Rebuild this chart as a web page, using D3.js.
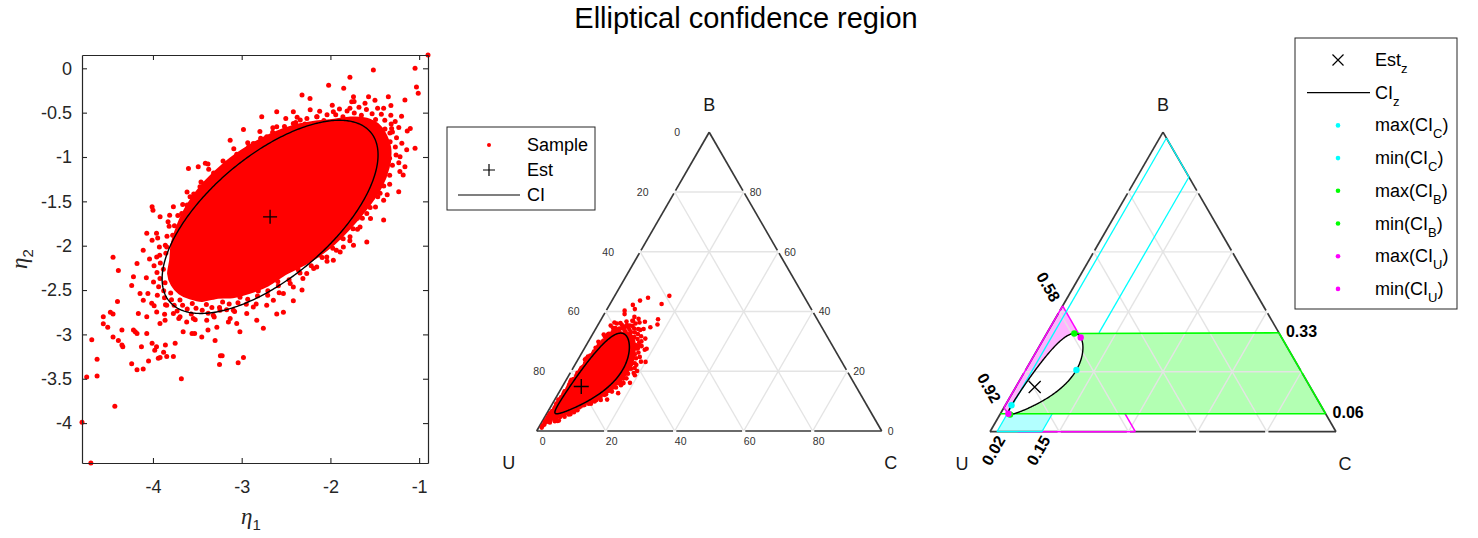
<!DOCTYPE html>
<html>
<head>
<meta charset="utf-8">
<script src="https://cdn.jsdelivr.net/npm/d3@7"></script>
<style>
  body { margin: 0; background: #fff; }
  svg { display: block; font-family: "Liberation Sans", Arial, Helvetica, sans-serif; }
</style>
</head>
<body>
<svg id="fig" width="1478" height="538"></svg>
<script>
// ---------------- data (eta1, eta2 log-ratio coordinates) ----------------
// outline of the saturated part of the sample cloud
const sampleCore = [
  [-1.455,-0.645],[-1.591,-0.574],[-1.775,-0.560],[-1.982,-0.589],[-2.180,-0.608],[-2.401,-0.650],
  [-2.651,-0.739],[-2.920,-0.882],[-3.188,-1.071],[-3.427,-1.300],[-3.606,-1.543],[-3.718,-1.772],
  [-3.783,-1.975],[-3.80,-2.16],[-3.824,-2.314],[-3.783,-2.441],[-3.701,-2.534],[-3.584,-2.589],
  [-3.445,-2.617],[-3.27,-2.58],[-3.101,-2.575],[-2.911,-2.526],[-2.703,-2.441],[-2.50,-2.31],
  [-2.251,-2.184],[-2.005,-2.014],[-1.787,-1.802],[-1.592,-1.574],[-1.432,-1.336],[-1.348,-1.114],
  [-1.329,-0.920],[-1.373,-0.767]
];
// individual draws around and outside that outline
const samplePoints = [
  [-1.491,-0.578],[-1.651,-0.529],[-1.859,-0.547],[-2.074,-0.588],[-2.288,-0.628],[-2.526,-0.711],
  [-2.780,-0.836],[-3.036,-1.006],[-3.284,-1.205],[-3.496,-1.430],[-3.664,-1.660],[-3.778,-1.881],
  [-3.855,-2.085],[-3.883,-2.266],[-3.864,-2.417],[-3.800,-2.533],[-3.696,-2.612],[-3.557,-2.651],
  [-3.398,-2.662],[-3.215,-2.634],[-3.019,-2.581],[-2.813,-2.511],[-2.593,-2.405],[-2.363,-2.271],
  [-2.126,-2.106],[-1.901,-1.909],[-1.696,-1.690],[-1.529,-1.459],[-1.401,-1.229],[-1.333,-1.013],
  [-1.327,-0.827],[-1.385,-0.683],
  [-1.387,-0.587],[-1.530,-0.511],[-1.731,-0.505],[-1.940,-0.524],[-2.151,-0.545],[-2.391,-0.611],
  [-2.651,-0.722],[-2.920,-0.882],[-3.184,-1.076],[-3.420,-1.303],[-3.615,-1.542],[-3.758,-1.775],
  [-3.861,-1.996],[-3.917,-2.196],[-3.921,-2.369],[-3.879,-2.508],[-3.791,-2.610],[-3.666,-2.672],
  [-3.515,-2.704],[-3.336,-2.696],[-3.141,-2.658],[-2.932,-2.603],[-2.705,-2.509],[-2.466,-2.384],
  [-2.216,-2.226],[-1.973,-2.030],[-1.745,-1.808],[-1.552,-1.570],[-1.399,-1.327],[-1.301,-1.094],
  [-1.268,-0.886],[-1.301,-0.717],
  [-1.426,-0.518],[-1.594,-0.465],[-1.812,-0.481],[-2.038,-0.524],[-2.265,-0.567],[-2.518,-0.657],
  [-2.786,-0.789],[-3.056,-0.969],[-3.317,-1.180],[-3.541,-1.416],[-3.720,-1.659],[-3.842,-1.893],
  [-3.924,-2.109],[-3.955,-2.301],[-3.936,-2.462],[-3.870,-2.587],[-3.761,-2.672],[-3.614,-2.715],
  [-3.445,-2.727],[-3.250,-2.698],[-3.042,-2.642],[-2.822,-2.566],[-2.587,-2.452],[-2.343,-2.307],
  [-2.093,-2.132],[-1.856,-1.923],[-1.640,-1.691],[-1.466,-1.447],[-1.332,-1.205],[-1.260,-0.978],
  [-1.255,-0.782],[-1.315,-0.629],
  [-1.319,-0.530],[-1.468,-0.449],[-1.678,-0.440],[-1.898,-0.459],[-2.121,-0.483],[-2.375,-0.553],
  [-2.649,-0.671],[-2.932,-0.840],[-3.210,-1.045],[-3.459,-1.283],[-3.665,-1.535],[-3.818,-1.781],
  [-3.928,-2.014],[-3.988,-2.226],[-3.994,-2.409],[-3.951,-2.558],[-3.859,-2.667],[-3.728,-2.735],
  [-3.568,-2.769],[-3.378,-2.761],[-3.170,-2.721],[-2.948,-2.661],[-2.707,-2.560],[-2.453,-2.426],
  [-2.189,-2.258],[-1.933,-2.050],[-1.695,-1.815],[-1.492,-1.564],[-1.332,-1.308],[-1.229,-1.064],
  [-1.195,-0.845],[-1.229,-0.667],
  [-1.318,-0.419],[-1.498,-0.359],[-1.733,-0.373],[-1.979,-0.417],[-2.228,-0.467],[-2.503,-0.566],
  [-2.795,-0.712],[-3.089,-0.907],[-3.372,-1.137],[-3.616,-1.394],[-3.812,-1.658],[-3.947,-1.913],
  [-4.039,-2.149],[-4.075,-2.361],[-4.057,-2.538],[-3.987,-2.676],[-3.869,-2.772],[-3.709,-2.821],
  [-3.524,-2.836],[-3.310,-2.805],[-3.080,-2.742],[-2.837,-2.657],[-2.578,-2.530],[-2.310,-2.369],
  [-2.038,-2.175],[-1.781,-1.945],[-1.548,-1.692],[-1.360,-1.427],[-1.217,-1.164],[-1.140,-0.919],
  [-1.134,-0.706],[-1.198,-0.540],
  [-0.90,0.15],[-1.046,0.0],[-1.03,-0.21],[-1.01,-0.28],[-1.516,-0.019],[-1.78,-0.10],[-2.02,-0.19],
  [-1.85,-0.226],[-1.74,-0.32],[-1.76,-0.377],[-1.78,-0.45],[-1.347,-0.32],[-1.16,-0.358],[-1.61,-0.395],
  [-1.57,-0.32],[-1.40,-0.45],[-1.27,-0.60],[-1.31,-0.68],[-1.33,-0.73],[-1.10,-0.68],[-1.046,-0.90],
  [-1.215,-0.998],[-1.347,-1.054],[-1.16,-1.11],[-1.18,-1.204],[-1.23,-1.393],[-1.44,-1.41],[-1.40,-1.487],
  [-1.40,-1.71],[-1.59,-1.957],[-1.74,-1.994],[-1.89,-2.07],[-1.967,-2.164],[-2.32,-0.30],[-2.23,-0.34],
  [-2.418,-0.49],[-2.605,-0.49],[-2.774,-0.546],[-2.98,-0.69],[-3.13,-0.81],
  [-3.60,-1.13],[-3.49,-1.11],[-3.41,-1.07],[-3.38,-1.08],[-3.77,-1.56],[-4.01,-1.56],[-4.00,-1.60],
  [-3.92,-1.675],[-3.83,-1.73],[-3.96,-1.86],[-4.07,-1.86],[-4.01,-1.94],[-4.45,-2.13],[-4.39,-2.28],
  [-4.18,-2.20],[-4.11,-2.05],[-4.22,-2.35],[-4.24,-2.45],
  [-4.747,-3.48],[-4.69,-3.06],[-4.80,-3.99],[-4.70,-4.45],[-4.43,-3.81],[-4.63,-3.28],[-4.63,-3.47],
  [-4.56,-2.80],[-4.56,-2.88],[-4.51,-2.92],[-4.40,-2.63],[-4.48,-2.75],[-4.45,-2.77],[-4.45,-3.03],
  [-4.39,-3.07],[-4.35,-3.12],[-4.34,-3.14],[-4.35,-2.95],[-4.24,-3.33],[-4.18,-3.40],[-4.11,-3.39],
  [-4.22,-2.95],[-4.20,-2.97],[-4.18,-2.99],[-4.13,-3.14],[-4.05,-3.30],[-3.94,-3.27],[-3.92,-3.26],
  [-3.845,-3.25],[-4.01,-3.10],[-3.98,-3.18],[-3.96,-3.14],[-3.86,-3.12],[-3.88,-3.20],[-3.75,-3.10],
  [-3.77,-3.25],[-3.68,-3.50],[-4.07,-2.99],[-3.66,-2.97],[-3.56,-2.99],[-3.53,-2.99],[-3.45,-3.03],
  [-3.38,-2.95],[-3.30,-3.07],[-3.24,-3.24],[-3.22,-3.24],[-3.25,-3.34],[-3.04,-3.32],[-2.98,-3.26],
  [-2.756,-2.93],[-3.02,-2.97],[-3.15,-2.86],[-3.13,-2.82],[-2.605,-2.77],[-2.53,-2.75],[-2.418,-2.62],
  [-2.32,-2.50],
  [-4.146,-2.54],[-4.109,-2.615],[-4.165,-2.765],[-4.07,-2.80],[-4.014,-2.65],[-3.958,-2.747],
  [-3.921,-2.878],[-3.864,-2.84],[-3.845,-2.672],[-3.77,-2.765],[-3.695,-2.80],[-3.62,-2.86],
  [-3.545,-2.82],[-3.394,-2.84],[-3.32,-2.785],[-3.244,-2.728],[-3.094,-2.728],[-2.943,-2.765],
  [-2.869,-2.69],[-2.718,-2.672],[-2.643,-2.615],[-3.056,-2.878],[-2.83,-2.84],[-3.28,-2.92],
  [-2.53,-2.54],[-2.418,-2.465],
  [-3.582,-1.449],[-3.676,-1.637],[-3.62,-1.788],[-3.732,-1.862],[-3.845,-2.014],[-3.958,-2.127],
  [-3.32,-1.26],[-3.244,-1.185],[-3.47,-1.336],
  [-2.869,-0.847],[-2.718,-0.772],[-2.605,-0.659],[-2.418,-0.621],[-2.34,-0.584],[-2.154,-0.546],
  [-1.967,-0.49],
  [-1.478,-0.922],[-1.44,-1.148],[-1.516,-1.26],[-1.59,-1.637],[-1.666,-1.788],[-1.779,-1.90],
  [-1.854,-2.014],[-2.041,-2.127],[-2.154,-2.24],[-2.267,-2.314]
];
const estimate = [-2.68, -1.675];
// shape matrix of the elliptical 95% region around the estimate
const ciShape = [[1.481, 0.85], [0.85, 1.186]];

const xTicks = [-4, -3, -2, -1];
const yTicks = [0, -0.5, -1, -1.5, -2, -2.5, -3, -3.5, -4];
const ternTicks = [0, 20, 40, 60, 80];
const gridLevels = [0.2, 0.4, 0.6, 0.8];

// marginal confidence bounds of each component (proportions)
const ciC = [0.02, 0.15];
const ciB = [0.06, 0.33];
const ciU = [0.58, 0.92];

const legendLeftLabels = ["Sample", "Est", "CI"];
const legendRightLabels = ["Est", "CI", "max(CI", "min(CI", "max(CI", "min(CI", "max(CI", "min(CI"];
const legendRightSubs = ["z", "z", "C", "C", "B", "B", "U", "U"];
const legendRightTails = ["", "", ")", ")", ")", ")", ")", ")"];

// ---------------- helpers ----------------
const svg = d3.select("#fig");
const AX = "#262626";
const SQ = Math.sqrt(3) / 2;
const colC = "#00ffff", colB = "#00ff00", colU = "#ff00ff";

function toComp(p) {
  const a = Math.exp(p[0]), b = Math.exp(p[1]), s = 1 + a + b;
  return { U: 1 / s, C: a / s, B: b / s };
}

function ellipse(center, m, n) {
  const a = m[0][0], b = m[0][1], d = m[1][1];
  const tr = a + d, det = a * d - b * b;
  const disc = Math.sqrt(tr * tr / 4 - det);
  const l1 = tr / 2 + disc, l2 = tr / 2 - disc;
  const th = Math.atan2(l1 - a, b);
  const ux = Math.cos(th), uy = Math.sin(th);
  const s1 = Math.sqrt(l1), s2 = Math.sqrt(l2);
  return d3.range(n).map(i => {
    const t = 2 * Math.PI * i / n;
    const p = s1 * Math.cos(t), q = s2 * Math.sin(t);
    return [center[0] + p * ux - q * uy, center[1] + p * uy + q * ux];
  });
}

const ciCurve = ellipse(estimate, ciShape, 360);

function plusPath(x, y, r) { return `M${x - r},${y}H${x + r}M${x},${y - r}V${y + r}`; }
function crossPath(x, y, r) { return `M${x - r},${y - r}L${x + r},${y + r}M${x - r},${y + r}L${x + r},${y - r}`; }

// ---------------- title ----------------
svg.append("text").attr("x", 746).attr("y", 28).attr("text-anchor", "middle")
  .attr("font-size", 29).attr("fill", "#000").text("Elliptical confidence region");

// ---------------- left panel: eta plane ----------------
const L = { x0: 82, x1: 428, y0: 55, y1: 463 };
const allEta = sampleCore.concat(samplePoints);
const xs = d3.scaleLinear().domain(d3.extent(allEta, d => d[0])).range([L.x0, L.x1]);
const ys = d3.scaleLinear().domain(d3.extent(allEta, d => d[1])).range([L.y1, L.y0]);

const gl = svg.append("g");
gl.append("path").datum(sampleCore)
  .attr("d", d3.line().x(d => xs(d[0])).y(d => ys(d[1])).curve(d3.curveCardinalClosed.tension(0.3)))
  .attr("fill", "#ff0000").attr("stroke", "#ff0000").attr("stroke-width", 3).attr("stroke-linejoin", "round");
gl.selectAll("circle.s").data(samplePoints).join("circle").attr("class", "s")
  .attr("cx", d => xs(d[0])).attr("cy", d => ys(d[1])).attr("r", 2.5).attr("fill", "#ff0000");
gl.append("path").datum(ciCurve)
  .attr("d", d3.line().x(d => xs(d[0])).y(d => ys(d[1])).curve(d3.curveLinearClosed))
  .attr("fill", "none").attr("stroke", "#000").attr("stroke-width", 1.4);
gl.append("path").attr("d", plusPath(xs(estimate[0]), ys(estimate[1]), 7))
  .attr("stroke", "#000").attr("stroke-width", 1.3);

function styleAxis(g) {
  g.selectAll("path.domain").attr("stroke", AX).attr("stroke-width", 1.2);
  g.selectAll(".tick line").attr("stroke", AX).attr("stroke-width", 1.1);
  g.selectAll("text").attr("fill", AX).attr("font-size", 18)
    .attr("font-family", "'Liberation Sans', Arial, sans-serif");
}
const fmt = d => String(d);
svg.append("g").attr("transform", `translate(0,${L.y1})`)
  .call(d3.axisBottom(xs).tickValues(xTicks).tickFormat(fmt).tickSizeInner(-5).tickSizeOuter(0).tickPadding(17))
  .call(styleAxis);
svg.append("g").attr("transform", `translate(0,${L.y0})`)
  .call(d3.axisTop(xs).tickValues(xTicks).tickFormat("").tickSizeInner(-5).tickSizeOuter(0))
  .call(styleAxis);
svg.append("g").attr("transform", `translate(${L.x0},0)`)
  .call(d3.axisLeft(ys).tickValues(yTicks).tickFormat(fmt).tickSizeInner(-5).tickSizeOuter(0).tickPadding(10))
  .call(styleAxis);
svg.append("g").attr("transform", `translate(${L.x1},0)`)
  .call(d3.axisRight(ys).tickValues(yTicks).tickFormat("").tickSizeInner(-5).tickSizeOuter(0))
  .call(styleAxis);

// axis names
const xl = svg.append("text").attr("x", 251).attr("y", 524).attr("text-anchor", "middle")
  .attr("font-family", "'Liberation Serif', 'DejaVu Serif', serif").attr("font-size", 23).attr("fill", AX);
xl.append("tspan").attr("font-style", "italic").text("η");
xl.append("tspan").attr("font-family", "'Liberation Sans', Arial, sans-serif").attr("font-size", 15).attr("dy", 6).text("1");
const yl = svg.append("text").attr("transform", "translate(27,259) rotate(-90)").attr("text-anchor", "middle")
  .attr("font-family", "'Liberation Serif', 'DejaVu Serif', serif").attr("font-size", 23).attr("fill", AX);
yl.append("tspan").attr("font-style", "italic").text("η");
yl.append("tspan").attr("font-family", "'Liberation Sans', Arial, sans-serif").attr("font-size", 15).attr("dy", 6).text("2");

// ---------------- ternary frames ----------------
function makeTern(ux, uy, side) {
  const bx = d3.scaleLinear().domain([0, 1]).range([ux, ux + side]);
  const hy = d3.scaleLinear().domain([0, 1]).range([uy, uy - side * SQ]);
  return c => [bx(c.C + c.B / 2), hy(c.B)];
}
function drawGrid(g, P) {
  const segs = [];
  gridLevels.forEach(v => {
    segs.push([{ U: 1 - v, B: v, C: 0 }, { U: 0, B: v, C: 1 - v }]);
    segs.push([{ U: 1 - v, B: 0, C: v }, { U: 0, B: 1 - v, C: v }]);
    segs.push([{ U: v, B: 1 - v, C: 0 }, { U: v, B: 0, C: 1 - v }]);
  });
  g.selectAll(null).data(segs).join("line")
    .attr("x1", d => P(d[0])[0]).attr("y1", d => P(d[0])[1])
    .attr("x2", d => P(d[1])[0]).attr("y2", d => P(d[1])[1])
    .attr("stroke", "#e4e4e4").attr("stroke-width", 1.4);
}
function drawEdges(g, P) {
  const corners = [{ U: 1, B: 0, C: 0 }, { U: 0, B: 0, C: 1 }, { U: 0, B: 1, C: 0 }];
  const segs = [];
  for (let k = 0; k < 3; k++) {
    const a = P(corners[k]), b = P(corners[(k + 1) % 3]);
    const len = Math.hypot(b[0] - a[0], b[1] - a[1]);
    const gap = 1.6 / len;
    for (let i = 0; i < 5; i++) {
      const t0 = i / 5 + (i > 0 ? gap : 0), t1 = (i + 1) / 5 - (i < 4 ? gap : 0);
      segs.push([[a[0] + (b[0] - a[0]) * t0, a[1] + (b[1] - a[1]) * t0],
                 [a[0] + (b[0] - a[0]) * t1, a[1] + (b[1] - a[1]) * t1]]);
    }
  }
  g.selectAll(null).data(segs).join("line")
    .attr("x1", d => d[0][0]).attr("y1", d => d[0][1]).attr("x2", d => d[1][0]).attr("y2", d => d[1][1])
    .attr("stroke", "#383838").attr("stroke-width", 1.7);
}
function cornerLabels(g, P) {
  const B = P({ U: 0, B: 1, C: 0 }), U = P({ U: 1, B: 0, C: 0 }), C = P({ U: 0, B: 0, C: 1 });
  const t = (x, y, s) => g.append("text").attr("x", x).attr("y", y).attr("text-anchor", "middle")
    .attr("font-size", 18).attr("fill", "#1a1a1a").text(s);
  t(B[0], B[1] - 21, "B");
  t(U[0] - 28, U[1] + 38, "U");
  t(C[0] + 9, C[1] + 38, "C");
}

// ---------------- middle panel: sample in the simplex ----------------
const PM = makeTern(536.7, 431, 345);
const gm = svg.append("g");
drawGrid(gm, PM);
drawEdges(gm, PM);
cornerLabels(gm, PM);
const tickText = (x, y, s, anchor) => gm.append("text").attr("x", x).attr("y", y).attr("text-anchor", anchor)
  .attr("font-size", 10.5).attr("fill", "#333").text(s);
ternTicks.forEach(v => {
  const l = PM({ U: v / 100, B: 1 - v / 100, C: 0 });
  tickText(l[0] - 32, l[1] + 4, v, "middle");
  const r = PM({ U: 0, B: v / 100, C: 1 - v / 100 });
  tickText(r[0] + 6, r[1] + 4, v, "start");
  const b = PM({ U: 1 - v / 100, B: 0, C: v / 100 });
  tickText(b[0] + 6, b[1] + 14, v, "middle");
});
const lineM = d3.line().x(d => PM(toComp(d))[0]).y(d => PM(toComp(d))[1]);
gm.append("path").datum(sampleCore).attr("d", lineM.curve(d3.curveCardinalClosed.tension(0.3)))
  .attr("fill", "#ff0000").attr("stroke", "#ff0000").attr("stroke-width", 3).attr("stroke-linejoin", "round");
gm.selectAll("circle.s").data(samplePoints).join("circle").attr("class", "s")
  .attr("cx", d => PM(toComp(d))[0]).attr("cy", d => PM(toComp(d))[1]).attr("r", 2.3).attr("fill", "#ff0000");
gm.append("path").datum(ciCurve).attr("d", d3.line().x(d => PM(toComp(d))[0]).y(d => PM(toComp(d))[1]).curve(d3.curveLinearClosed))
  .attr("fill", "none").attr("stroke", "#000").attr("stroke-width", 1.5);
const em = PM(toComp(estimate));
gm.append("path").attr("d", plusPath(em[0], em[1], 7.5)).attr("stroke", "#000").attr("stroke-width", 1.4);

// legend of the middle panel
const lg1 = svg.append("g");
lg1.append("rect").attr("x", 447).attr("y", 127).attr("width", 148).attr("height", 83)
  .attr("fill", "#fff").attr("stroke", AX).attr("stroke-width", 1);
legendLeftLabels.forEach((s, i) => {
  lg1.append("text").attr("x", 527).attr("y", 151 + i * 25).attr("font-size", 18).attr("fill", "#000").text(s);
});
lg1.append("circle").attr("cx", 489).attr("cy", 145).attr("r", 2).attr("fill", "#ff0000");
lg1.append("path").attr("d", plusPath(489, 170, 6)).attr("stroke", "#000").attr("stroke-width", 1.2);
lg1.append("line").attr("x1", 458).attr("x2", 520).attr("y1", 195).attr("y2", 195).attr("stroke", "#000").attr("stroke-width", 1.2);

// ---------------- right panel: bounds of the region in the simplex ----------------
const PR = makeTern(990, 431.7, 346);
const gr = svg.append("g");
const comps = ciCurve.map(toComp);
const argBy = (key, cmp) => d3.range(comps.length).reduce((best, i) => cmp(comps[i][key], comps[best][key]) ? i : best, 0);
const iMaxC = argBy("C", (a, b) => a > b), iMinC = argBy("C", (a, b) => a < b);
const iMaxB = argBy("B", (a, b) => a > b), iMinB = argBy("B", (a, b) => a < b);
const iMaxU = argBy("U", (a, b) => a > b), iMinU = argBy("U", (a, b) => a < b);
const n = comps.length;
// arc between two indices that passes through a third one
function arcVia(i, j, via) {
  const fwd = []; let k = i;
  while (true) { fwd.push(k); if (k === j) break; k = (k + 1) % n; }
  if (fwd.includes(via)) return fwd.map(q => comps[q]);
  const back = []; k = i;
  while (true) { back.push(k); if (k === j) break; k = (k - 1 + n) % n; }
  return back.map(q => comps[q]);
}
const poly = pts => "M" + pts.map(c => PR(c).join(",")).join("L") + "Z";
const seg = (a, b, col, w) => gr.append("line")
  .attr("x1", PR(a)[0]).attr("y1", PR(a)[1]).attr("x2", PR(b)[0]).attr("y2", PR(b)[1])
  .attr("stroke", col).attr("stroke-width", w || 1.5);

// fills
const uRegion = [{ U: ciU[0], B: 1 - ciU[0], C: 0 }]
  .concat(arcVia(iMinU, iMaxU, iMaxB))
  .concat([{ U: ciU[1], B: 1 - ciU[1], C: 0 }]);
gr.append("path").attr("d", poly(uRegion)).attr("fill", "#ffb3ff");
const cRegion = [{ U: 1 - ciC[0], B: 0, C: ciC[0] }, { U: 1 - ciC[0] - ciB[0], B: ciB[0], C: ciC[0] },
                 { U: 1 - ciC[1] - ciB[0], B: ciB[0], C: ciC[1] }, { U: 1 - ciC[1], B: 0, C: ciC[1] }];
gr.append("path").attr("d", poly(cRegion)).attr("fill", "#b3ffff");
const bRegion = [{ U: 0, B: ciB[1], C: 1 - ciB[1] }, { U: 0, B: ciB[0], C: 1 - ciB[0] }]
  .concat(arcVia(iMinB, iMaxB, iMaxC));
gr.append("path").attr("d", poly(bRegion)).attr("fill", "#b3ffb3");

drawGrid(gr, PR);
drawEdges(gr, PR);
cornerLabels(gr, PR);

// bound lines of U
seg({ U: ciU[0], B: ciB[0], C: 1 - ciU[0] - ciB[0] }, { U: ciU[0], B: 0, C: 1 - ciU[0] }, colU);
seg({ U: ciU[1], B: 0, C: 1 - ciU[1] }, { U: ciU[0], B: 0, C: 1 - ciU[0] }, colU);
seg({ U: ciU[0], B: 1 - ciU[0], C: 0 }, comps[iMinU], colU);
seg({ U: ciU[0], B: 1 - ciU[0], C: 0 }, { U: ciU[1], B: 1 - ciU[1], C: 0 }, colU);
seg({ U: ciU[1], B: 1 - ciU[1], C: 0 }, comps[iMaxU], colU);
// bound lines of C
seg({ U: 1 - ciC[0], B: 0, C: ciC[0] }, { U: 0, B: 1 - ciC[0], C: ciC[0] }, colC, 1.3);
seg({ U: 1 - ciC[1], B: 0, C: ciC[1] }, { U: 1 - ciC[1] - ciB[0], B: ciB[0], C: ciC[1] }, colC, 1.3);
seg({ U: 1 - ciC[1] - ciB[1], B: ciB[1], C: ciC[1] }, { U: 0, B: 1 - ciC[1], C: ciC[1] }, colC, 1.3);
seg({ U: 0, B: 1 - ciC[0], C: ciC[0] }, { U: 0, B: 1 - ciC[1], C: ciC[1] }, colC, 1.3);
seg({ U: 1 - ciC[0], B: 0, C: ciC[0] }, { U: 1 - ciC[1], B: 0, C: ciC[1] }, colC, 1.3);
// bound lines of B
seg({ U: 1 - ciB[0], B: ciB[0], C: 0 }, { U: 0, B: ciB[0], C: 1 - ciB[0] }, colB, 1.6);
seg(comps[iMaxB], { U: 0, B: ciB[1], C: 1 - ciB[1] }, colB, 1.6);
seg({ U: 0, B: ciB[0], C: 1 - ciB[0] }, { U: 0, B: ciB[1], C: 1 - ciB[1] }, colB, 1.6);

gr.append("path").datum(comps).attr("d", d3.line().x(c => PR(c)[0]).y(c => PR(c)[1]).curve(d3.curveLinearClosed))
  .attr("fill", "none").attr("stroke", "#000").attr("stroke-width", 1.4);
const er = PR(toComp(estimate));
gr.append("path").attr("d", crossPath(er[0], er[1], 6)).attr("stroke", "#000").attr("stroke-width", 1.3);

const dots = [[iMaxC, colC], [iMinC, colC], [iMaxB, colB], [iMinB, colB], [iMaxU, colU], [iMinU, colU]];
gr.selectAll("circle.ext").data(dots).join("circle").attr("class", "ext")
  .attr("cx", d => PR(comps[d[0]])[0]).attr("cy", d => PR(comps[d[0]])[1]).attr("r", 3.2).attr("fill", d => d[1]);

// bound values
const bold = (x, y, s, rot, anchor) => gr.append("text")
  .attr("transform", `translate(${x},${y}) rotate(${rot})`).attr("text-anchor", anchor)
  .attr("dominant-baseline", "central").attr("font-size", 16).attr("font-weight", "bold").attr("fill", "#000").text(s);
const c60 = 0.5, s60 = SQ;
ciU.slice().reverse().forEach((v, i) => {
  const p = PR({ U: v, B: 1 - v, C: 0 });
  const g = i === 0 ? 9 : 8;
  bold(p[0] - c60 * g - s60 * 3, p[1] - s60 * g + c60 * 3, v.toFixed(2), 60, "end");
});
ciC.forEach(v => {
  const p = PR({ U: 1 - v, B: 0, C: v });
  bold(p[0] - c60 * 2.5 + s60 * 6.5, p[1] + s60 * 2.5 + c60 * 6.5, v.toFixed(2), -60, "end");
});
ciB.forEach(v => {
  const p = PR({ U: 0, B: v, C: 1 - v });
  bold(p[0] + 7, p[1] - 1, v.toFixed(2), 0, "start");
});

// legend of the right panel
const lg2 = svg.append("g");
lg2.append("rect").attr("x", 1295).attr("y", 38).attr("width", 162).attr("height", 271)
  .attr("fill", "#fff").attr("stroke", AX).attr("stroke-width", 1);
const rowY = i => 60 + i * 32.7;
legendRightLabels.forEach((s, i) => {
  const t = lg2.append("text").attr("x", 1375).attr("y", rowY(i) + 6).attr("font-size", 18).attr("fill", "#000");
  t.append("tspan").text(s);
  t.append("tspan").attr("font-size", 13).attr("dy", 7).text(legendRightSubs[i]);
  if (legendRightTails[i]) t.append("tspan").attr("dy", -7).text(legendRightTails[i]);
});
lg2.append("path").attr("d", crossPath(1338, rowY(0), 5.5)).attr("stroke", "#000").attr("stroke-width", 1.2);
lg2.append("line").attr("x1", 1307).attr("x2", 1370).attr("y1", rowY(1)).attr("y2", rowY(1)).attr("stroke", "#000").attr("stroke-width", 1.2);
[colC, colC, colB, colB, colU, colU].forEach((c, i) => {
  lg2.append("circle").attr("cx", 1338).attr("cy", rowY(i + 2)).attr("r", 2.3).attr("fill", c);
});
</script>
</body>
</html>
